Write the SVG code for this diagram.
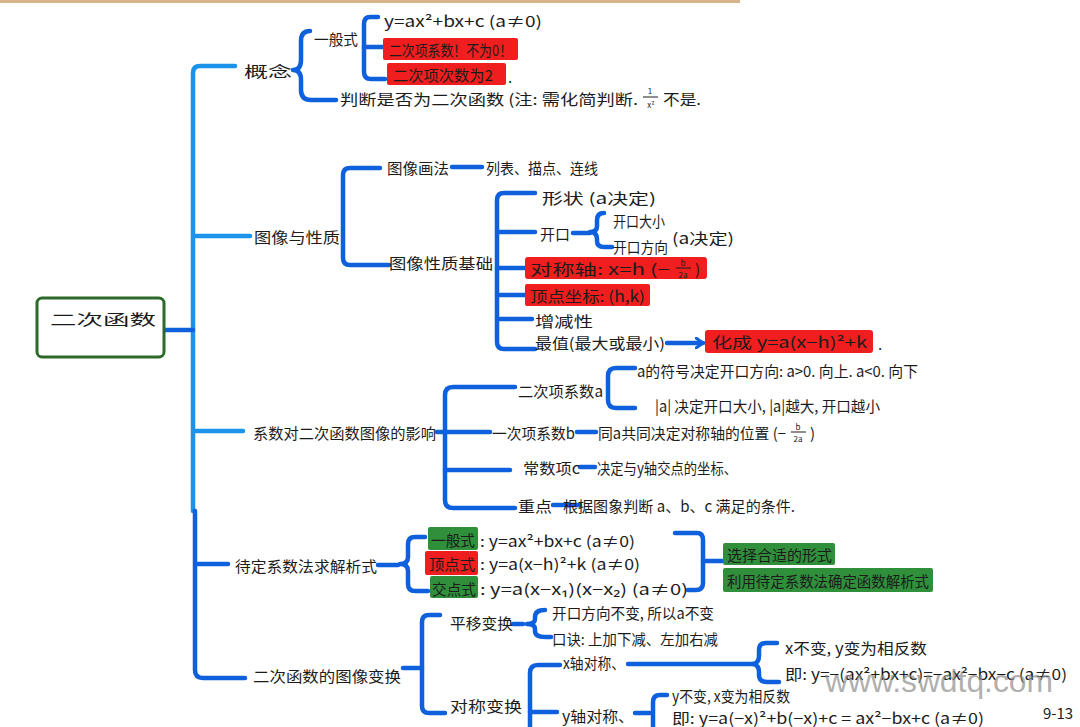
<svg xmlns="http://www.w3.org/2000/svg" width="1080" height="727" viewBox="0 0 1080 727">
<style>
.t{font-family:"Noto Sans CJK SC","Noto Sans",sans-serif;font-size:15px;fill:#1c1c1c;dominant-baseline:central}
.s{font-size:8px}
.b{fill:none;stroke:#0f60dc;stroke-width:4.5;stroke-linecap:round;stroke-linejoin:round}
.lb{fill:none;stroke:#1b93ea;stroke-width:4.5;stroke-linecap:round;stroke-linejoin:round}
.fl{fill:none;stroke:#1c1c1c;stroke-width:1}
.hr{fill:#f01e1e}
.hg{fill:#2f8f3a}
</style>
<defs>
<marker id="ah" markerWidth="10" markerHeight="12" refX="8" refY="6" orient="auto" markerUnits="userSpaceOnUse">
<path d="M1 1 L8 6 L1 11" fill="none" stroke="#0f60dc" stroke-width="3" stroke-linecap="round"/>
</marker>
</defs>
<rect width="1080" height="727" fill="#ffffff"/>
<rect x="0" y="0" width="740" height="3" fill="#d9b48a"/>

<g id="connectors">
<path class="lb" d="M235 66 H200 Q193 66 193 73 V511"/>
<path class="lb" d="M194 236 H250"/>
<path class="lb" d="M194 431 H243"/>
<path class="b" d="M165 330 H193"/>
<path class="b" d="M195 511 V670 Q195 678 203 678 H245"/>
<path class="b" d="M196 564 H228"/>
<path class="b" d="M310 31 Q301 31 301 41 V60 Q301 70 293 70 Q301 70 301 80 V90 Q301 100 311 100 H336"/>
<path class="b" d="M378 17 H370 Q364 17 364 24 V72 Q364 79 371 79 H385"/>
<path class="b" d="M364 47 H383"/>
<path class="b" d="M380 168 H350 Q343 168 343 175 V258 Q343 265 350 265 H389"/>
<path class="b" d="M452 167 H482"/>
<path class="b" d="M535 193 H504 Q497 193 497 200 V342 Q497 349 504 349 H535"/>
<path class="b" d="M497 232 H535"/>
<path class="b" d="M497 268 H525"/>
<path class="b" d="M497 295 H525"/>
<path class="b" d="M497 319 H532"/>
<path class="b" d="M573 233 H590"/>
<path class="b" d="M604 213 Q597 213 597 220 V226 Q597 232 590 232 Q597 232 597 239 V241 Q597 247 604 247 H612"/>
<path class="b" d="M667 343 H703" marker-end="url(#ah)"/>
<path class="b" d="M437 432 H445"/>
<path class="b" d="M515 387 H453 Q445 387 445 395 V500 Q445 508 453 508 H515"/>
<path class="b" d="M445 432 H490"/>
<path class="b" d="M445 470 H510"/>
<path class="b" d="M635 368 H616 Q608 368 608 376 V400 Q608 408 616 408 H635"/>
<path class="b" d="M577 432 H596"/>
<path class="b" d="M580 467 H595"/>
<path class="b" d="M553 505 H580"/>
<path class="b" d="M378 565 H398"/>
<path class="b" d="M425 537 H415 Q408 537 408 544 V557 Q408 564 400 564 Q408 564 408 571 V584 Q408 591 415 591 H428"/>
<path class="b" d="M675 533 H697 Q703 533 703 540 V583 Q703 590 696 590 H688"/>
<path class="b" d="M703 561 H722"/>
<path class="b" d="M403 668 H422"/>
<path class="b" d="M440 615 H429 Q422 615 422 622 V706 Q422 713 429 713 H445"/>
<path class="b" d="M513 624 H523"/>
<path class="b" d="M545 610 Q535 610 535 617 V619 Q535 624 527 624 Q535 624 535 629 V631 Q535 637 545 637 H551"/>
<path class="b" d="M560 665 H538 Q530 665 530 673 V735"/>
<path class="b" d="M530 712 H557"/>
<path class="b" d="M628 664 H753"/>
<path class="b" d="M777 643 H766 Q759 643 759 650 V656 Q759 663 753 664 Q759 665 759 672 V675 Q759 682 767 682 H779"/>
<path class="b" d="M635 713 H650"/>
<path class="b" d="M667 695 H660 Q653 695 653 702 V740"/>
</g>

<g id="root">
<rect x="37" y="298" width="127" height="59" rx="5" fill="#ffffff" stroke="#2d6a2a" stroke-width="3"/>
<text class="t" x="50" y="318" font-size="22" textLength="106" lengthAdjust="spacingAndGlyphs">二次函数</text>
</g>

<g id="n-concept">
<text class="t" x="244" y="70" font-size="17" textLength="48" lengthAdjust="spacingAndGlyphs">概念</text>
<text class="t" x="314" y="38" textLength="44" lengthAdjust="spacingAndGlyphs">一般式</text>
<text class="t" x="384" y="20" textLength="158" lengthAdjust="spacingAndGlyphs">y=ax²+bx+c (a≠0)</text>
<rect class="hr" x="383" y="38" width="135" height="22" rx="2"/>
<text class="t" x="389" y="49" textLength="123" lengthAdjust="spacingAndGlyphs">二次项系数！不为0！</text>
<rect class="hr" x="387" y="63" width="119" height="22" rx="2"/>
<text class="t" x="393" y="74" textLength="100" lengthAdjust="spacingAndGlyphs">二次项次数为2</text>
<text class="t" x="508" y="76">.</text>
<text class="t" x="340" y="98" textLength="298" lengthAdjust="spacingAndGlyphs">判断是否为二次函数 (注: 需化简判断.</text>
<text class="t s" x="650" y="90" text-anchor="middle">1</text>
<line class="fl" x1="643" y1="97" x2="658" y2="97"/>
<text class="t s" x="651" y="104" text-anchor="middle">x²</text>
<text class="t" x="663" y="98" textLength="38" lengthAdjust="spacingAndGlyphs">不是.</text>
</g>

<g id="n-image">
<text class="t" x="254" y="236" textLength="86" lengthAdjust="spacingAndGlyphs">图像与性质</text>
<text class="t" x="387" y="167" textLength="62" lengthAdjust="spacingAndGlyphs">图像画法</text>
<text class="t" x="486" y="167" textLength="112" lengthAdjust="spacingAndGlyphs">列表、描点、连线</text>
<text class="t" x="389" y="262" textLength="104" lengthAdjust="spacingAndGlyphs">图像性质基础</text>
<text class="t" x="542" y="197" textLength="114" lengthAdjust="spacingAndGlyphs">形状 (a决定)</text>
<text class="t" x="540" y="233" textLength="30" lengthAdjust="spacingAndGlyphs">开口</text>
<text class="t" x="613" y="220" textLength="52" lengthAdjust="spacingAndGlyphs">开口大小</text>
<text class="t" x="613" y="246" textLength="55" lengthAdjust="spacingAndGlyphs">开口方向</text>
<text class="t" x="672" y="237" textLength="62" lengthAdjust="spacingAndGlyphs">(a决定)</text>
<rect class="hr" x="525" y="257" width="182" height="22" rx="3"/>
<text class="t" x="530" y="268" textLength="140" lengthAdjust="spacingAndGlyphs">对称轴: x=h (−</text>
<text class="t s" x="683" y="262" text-anchor="middle">b</text>
<line class="fl" x1="676" y1="268" x2="691" y2="268"/>
<text class="t s" x="683" y="274" text-anchor="middle">2a</text>
<text class="t" x="695" y="268">)</text>
<rect class="hr" x="525" y="284" width="125" height="22" rx="2"/>
<text class="t" x="530" y="295" textLength="115" lengthAdjust="spacingAndGlyphs">顶点坐标: (h,k)</text>
<text class="t" x="535" y="320" textLength="58" lengthAdjust="spacingAndGlyphs">增减性</text>
<text class="t" x="535" y="342" textLength="130" lengthAdjust="spacingAndGlyphs">最值(最大或最小)</text>
<rect class="hr" x="705" y="330" width="168" height="23" rx="3"/>
<text class="t" x="712" y="341" textLength="155" lengthAdjust="spacingAndGlyphs">化成 y=a(x−h)²+k</text>
<text class="t" x="878" y="343">.</text>
</g>

<g id="n-coef">
<text class="t" x="253" y="432" textLength="183" lengthAdjust="spacingAndGlyphs">系数对二次函数图像的影响</text>
<text class="t" x="518" y="390" textLength="85" lengthAdjust="spacingAndGlyphs">二次项系数a</text>
<text class="t" x="637" y="370" textLength="281" lengthAdjust="spacingAndGlyphs">a的符号决定开口方向: a&gt;0. 向上. a&lt;0. 向下</text>
<text class="t" x="655" y="405" textLength="225" lengthAdjust="spacingAndGlyphs">|a| 决定开口大小, |a|越大, 开口越小</text>
<text class="t" x="492" y="432" textLength="83" lengthAdjust="spacingAndGlyphs">一次项系数b</text>
<text class="t" x="598" y="432" textLength="188" lengthAdjust="spacingAndGlyphs">同a共同决定对称轴的位置 (−</text>
<text class="t s" x="798" y="426" text-anchor="middle">b</text>
<line class="fl" x1="791" y1="432" x2="806" y2="432"/>
<text class="t s" x="798" y="438" text-anchor="middle">2a</text>
<text class="t" x="810" y="432">)</text>
<text class="t" x="523" y="467" textLength="57" lengthAdjust="spacingAndGlyphs">常数项c</text>
<text class="t" x="597" y="467" textLength="140" lengthAdjust="spacingAndGlyphs">决定与y轴交点的坐标、</text>
<text class="t" x="518" y="505" textLength="34" lengthAdjust="spacingAndGlyphs">重点</text>
<text class="t" x="563" y="505" textLength="232" lengthAdjust="spacingAndGlyphs">根据图象判断 a、b、c 满足的条件.</text>
</g>

<g id="n-solve">
<text class="t" x="235" y="565" textLength="142" lengthAdjust="spacingAndGlyphs">待定系数法求解析式</text>
<rect class="hg" x="428" y="527" width="50" height="23" rx="2"/>
<text class="t" x="431" y="539" textLength="44" lengthAdjust="spacingAndGlyphs">一般式</text>
<text class="t" x="480" y="540" textLength="155" lengthAdjust="spacingAndGlyphs">: y=ax²+bx+c (a≠0)</text>
<rect class="hr" x="425" y="551" width="53" height="24" rx="2"/>
<text class="t" x="429" y="563" textLength="46" lengthAdjust="spacingAndGlyphs">顶点式</text>
<text class="t" x="480" y="563" textLength="160" lengthAdjust="spacingAndGlyphs">: y=a(x−h)²+k (a≠0)</text>
<rect class="hg" x="430" y="576" width="48" height="22" rx="2"/>
<text class="t" x="432" y="588" textLength="44" lengthAdjust="spacingAndGlyphs">交点式</text>
<text class="t" x="480" y="588" textLength="208" lengthAdjust="spacingAndGlyphs">: y=a(x−x₁)(x−x₂) (a≠0)</text>
<rect class="hg" x="723" y="543" width="112" height="22" rx="2"/>
<text class="t" x="727" y="554" textLength="105" lengthAdjust="spacingAndGlyphs">选择合适的形式</text>
<rect class="hg" x="723" y="568" width="210" height="24" rx="2"/>
<text class="t" x="727" y="580" textLength="202" lengthAdjust="spacingAndGlyphs">利用待定系数法确定函数解析式</text>
</g>

<g id="n-transform">
<text class="t" x="253" y="675" textLength="148" lengthAdjust="spacingAndGlyphs">二次函数的图像变换</text>
<text class="t" x="450" y="622" textLength="63" lengthAdjust="spacingAndGlyphs">平移变换</text>
<text class="t" x="552" y="612" textLength="162" lengthAdjust="spacingAndGlyphs">开口方向不变, 所以a不变</text>
<text class="t" x="552" y="638" textLength="166" lengthAdjust="spacingAndGlyphs">口诀: 上加下减、左加右减</text>
<text class="t" x="450" y="705" textLength="72" lengthAdjust="spacingAndGlyphs">对称变换</text>
<text class="t" x="563" y="662" textLength="62" lengthAdjust="spacingAndGlyphs">x轴对称、</text>
<text class="t" x="785" y="647" textLength="142" lengthAdjust="spacingAndGlyphs">x不变, y变为相反数</text>
<text class="t" x="785" y="673" textLength="282" lengthAdjust="spacingAndGlyphs">即: y=−(ax²+bx+c)=−ax²−bx−c (a≠0)</text>
<text class="t" x="562" y="715" textLength="72" lengthAdjust="spacingAndGlyphs">y轴对称、</text>
<text class="t" x="672" y="695" textLength="118" lengthAdjust="spacingAndGlyphs">y不变, x变为相反数</text>
<text class="t" x="672" y="717" textLength="312" lengthAdjust="spacingAndGlyphs">即: y=a(−x)²+b(−x)+c = ax²−bx+c (a≠0)</text>
</g>

<g id="watermark">
<text x="825" y="692" font-family="'Liberation Sans',Arial,sans-serif" font-size="31" fill="#8c8c8c" fill-opacity="0.7" textLength="228" lengthAdjust="spacingAndGlyphs">www.swdtq.com</text>
<text class="t" x="1043" y="712" font-size="12">9-13</text>
</g>
</svg>
